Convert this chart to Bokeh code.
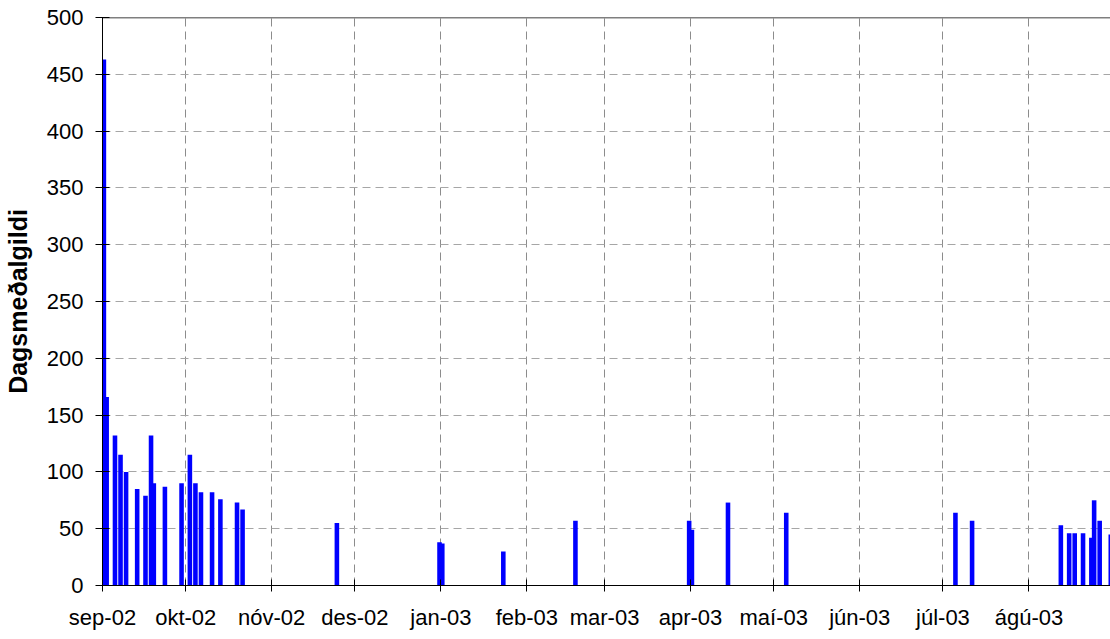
import pandas as pd
from bokeh.plotting import figure
from bokeh.models import FixedTicker, Range1d, Span, ColumnDataSource
from bokeh.embed import file_html
from bokeh.resources import INLINE

# --- data -------------------------------------------------------------
dates = [
    "2002-09-01", "2002-09-02", "2002-09-05", "2002-09-07", "2002-09-09",
    "2002-09-13", "2002-09-16", "2002-09-18", "2002-09-19", "2002-09-23",
    "2002-09-29", "2002-10-02", "2002-10-04", "2002-10-06", "2002-10-10",
    "2002-10-13", "2002-10-19", "2002-10-21", "2002-11-24", "2002-12-31",
    "2003-01-01", "2003-01-23", "2003-02-18", "2003-03-31", "2003-04-01",
    "2003-04-14", "2003-05-05", "2003-07-05", "2003-07-11", "2003-08-12",
    "2003-08-15", "2003-08-17", "2003-08-20", "2003-08-23", "2003-08-24",
    "2003-08-26", "2003-08-30",
]
values = [
    463, 166, 132, 115, 100,
    85, 79, 132, 90, 87,
    90, 115, 90, 82, 82,
    76, 73, 67, 55, 38,
    37, 30, 57, 57, 49,
    73, 64, 64, 57, 53,
    46, 46, 46, 42, 75,
    57, 45,
]
month_starts = [
    "2002-09-01", "2002-10-01", "2002-11-01", "2002-12-01", "2003-01-01",
    "2003-02-01", "2003-03-01", "2003-04-01", "2003-05-01", "2003-06-01",
    "2003-07-01", "2003-08-01",
]
month_labels = [
    "sep-02", "okt-02", "nóv-02", "des-02", "jan-03", "feb-03",
    "mar-03", "apr-03", "maí-03", "jún-03", "júl-03", "ágú-03",
]
y_ticks = [0, 50, 100, 150, 200, 250, 300, 350, 400, 450, 500]
y_title = "Dagsmeðalgildi"

# --- build -------------------------------------------------------------
DAY_MS = 86400000.0
x_centers = pd.to_datetime(dates) + pd.Timedelta(hours=12)
source = ColumnDataSource(dict(x=x_centers, top=values))

tick_ms = [float(pd.Timestamp(d).value // 10**6) for d in month_starts]
x_start = tick_ms[0]
x_end = x_start + 363.4 * DAY_MS

FONT = "Liberation Sans"

p = figure(
    width=1110, height=635,
    x_axis_type="datetime",
    output_backend="svg", toolbar_location=None,
    x_range=Range1d(x_start, x_end), y_range=Range1d(0, 500),
    min_border_left=102, min_border_right=0, min_border_top=17, min_border_bottom=50,
)
p.outline_line_color = None
p.background_fill_color = "white"
p.border_fill_color = "white"

p.vbar(x="x", top="top", width=1.65 * DAY_MS, source=source,
       fill_color="#0000FF", line_color=None)

# top border line
p.add_layout(Span(location=500, dimension="width", line_color="black", line_width=1.5))

# x axis
xa = p.xaxis[0]
xa.ticker = FixedTicker(ticks=tick_ms)
xa.major_label_overrides = {t: lab for t, lab in zip(tick_ms, month_labels)}
xa.major_label_text_font = FONT
xa.major_label_text_font_size = "22px"
xa.major_label_text_color = "black"
xa.major_label_standoff = 13
xa.major_tick_in = 6
xa.major_tick_out = 6
xa.minor_tick_line_color = None
xa.axis_line_color = "black"
xa.major_tick_line_color = "black"

# y axis
ya = p.yaxis[0]
ya.ticker = FixedTicker(ticks=y_ticks)
ya.major_label_text_font = FONT
ya.major_label_text_font_size = "22px"
ya.major_label_text_color = "black"
ya.major_label_standoff = 12
ya.major_tick_in = 7
ya.major_tick_out = 7
ya.minor_tick_line_color = None
ya.axis_line_color = "black"
ya.major_tick_line_color = "black"
ya.axis_label = y_title
ya.axis_label_text_font = FONT
ya.axis_label_text_font_size = "25px"
ya.axis_label_text_font_style = "bold"
ya.axis_label_text_color = "black"
ya.axis_label_standoff = 12

# grids
p.xgrid.ticker = FixedTicker(ticks=tick_ms)
p.xgrid.grid_line_color = "#8c8c8c"
p.xgrid.grid_line_dash = "8 5"
p.xgrid.grid_line_width = 1
p.ygrid.ticker = FixedTicker(ticks=y_ticks)
p.ygrid.grid_line_color = "#a6a6a6"
p.ygrid.grid_line_dash = "8 5"
p.ygrid.grid_line_width = 1

open("out.html", "w").write(file_html(p, INLINE))
